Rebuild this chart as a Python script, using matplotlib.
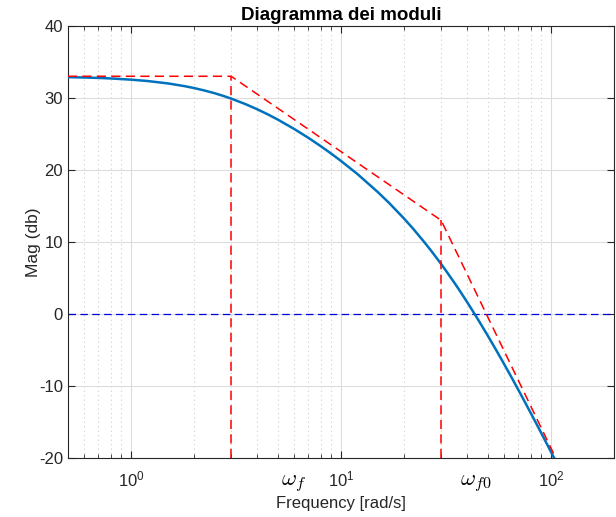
import matplotlib

matplotlib.use("Agg")
import matplotlib.pyplot as plt

# Magnitude of the system, dB, read along the frequency axis
freq = [0.5, 0.6, 0.7, 0.8, 1, 1.2, 1.5, 1.8, 2, 2.25, 2.5, 2.75, 3, 3.5, 4,
        4.5, 5, 6, 7, 8, 9, 10, 12, 15, 17, 20, 22, 25, 27, 30, 32, 35, 37,
        40, 45, 50, 55, 60, 65, 70, 75, 80, 85, 90, 95, 100, 105, 110]
mag_db = [32.88, 32.83, 32.77, 32.70, 32.53, 32.34, 32.01, 31.63, 31.36,
          31.01, 30.65, 30.28, 29.90, 29.15, 28.41, 27.69, 26.99, 25.67,
          24.45, 23.31, 22.25, 21.25, 19.41, 16.91, 15.38, 13.23, 11.88,
          9.94, 8.71, 6.94, 5.80, 4.17, 3.12, 1.60, -0.78, -3.00, -5.07,
          -7.01, -8.83, -10.55, -12.17, -13.71, -15.16, -16.55, -17.87,
          -19.13, -20.33, -21.48]

# Asymptotic (straight-line) approximation
asym_freq = [0.5, 3, 30, 200]
asym_db = [33, 33, 13, -36.8]

# Corner frequencies and their asymptote levels
corner_freq = [3, 30]
corner_db = [33, 13]
corner_labels = [r"$\omega_f$", r"$\omega_{f0}$"]
corner_label_x = [5.2, 36.8]

plt.rcParams["font.family"] = ["Liberation Sans", "DejaVu Sans"]
plt.rcParams["mathtext.fontset"] = "cm"
plt.rcParams["axes.unicode_minus"] = False

fig = plt.figure(figsize=(6.16, 5.17), dpi=100)
ax = fig.add_axes([0.110, 0.114, 0.887, 0.836])

dark = "#262626"
ax.set_xscale("log")
ax.set_xlim(0.5, 200)
ax.set_ylim(-20, 40)
ax.set_yticks(range(-20, 41, 10))

ax.grid(True, which="major", color="#dcdcdc", linewidth=0.8)
ax.grid(True, which="minor", color="#cccccc", linestyle=(0, (1, 3)), linewidth=0.8)
ax.set_axisbelow(True)

ax.plot(freq, mag_db, color="#0072BD", linewidth=1.8, zorder=3)
ax.plot(asym_freq, asym_db, color="red", linestyle=(0, (6, 3.5)), linewidth=1.1, zorder=4)
for f, db in zip(corner_freq, corner_db):
    ax.plot([f, f], [-20, db], color="red", linestyle=(0, (6, 3.5)), linewidth=1.1, zorder=4)
ax.axhline(0, color="#0000dd", linestyle=(0, (6, 3.5)), linewidth=0.9, zorder=2)

for lbl, x in zip(corner_labels, corner_label_x):
    ax.text(x, -23.9, lbl, fontsize=16.5, va="baseline", ha="left", clip_on=False)

ax.set_title("Diagramma dei moduli", fontsize=13.5, fontweight="bold", pad=4)
ax.set_xlabel("Frequency [rad/s]", fontsize=12, color=dark, labelpad=5)
ax.set_ylabel("Mag (db)", fontsize=12.5, color=dark, labelpad=-1.5)

ax.tick_params(which="both", direction="in", top=True, right=True,
               colors=dark, labelsize=12)
ax.tick_params(which="major", length=5)
ax.tick_params(which="minor", length=3)
ax.tick_params(axis="x", which="both", pad=8)
for s in ax.spines.values():
    s.set_color(dark)
    s.set_linewidth(0.8)

fig.savefig("out.png", dpi=100)
